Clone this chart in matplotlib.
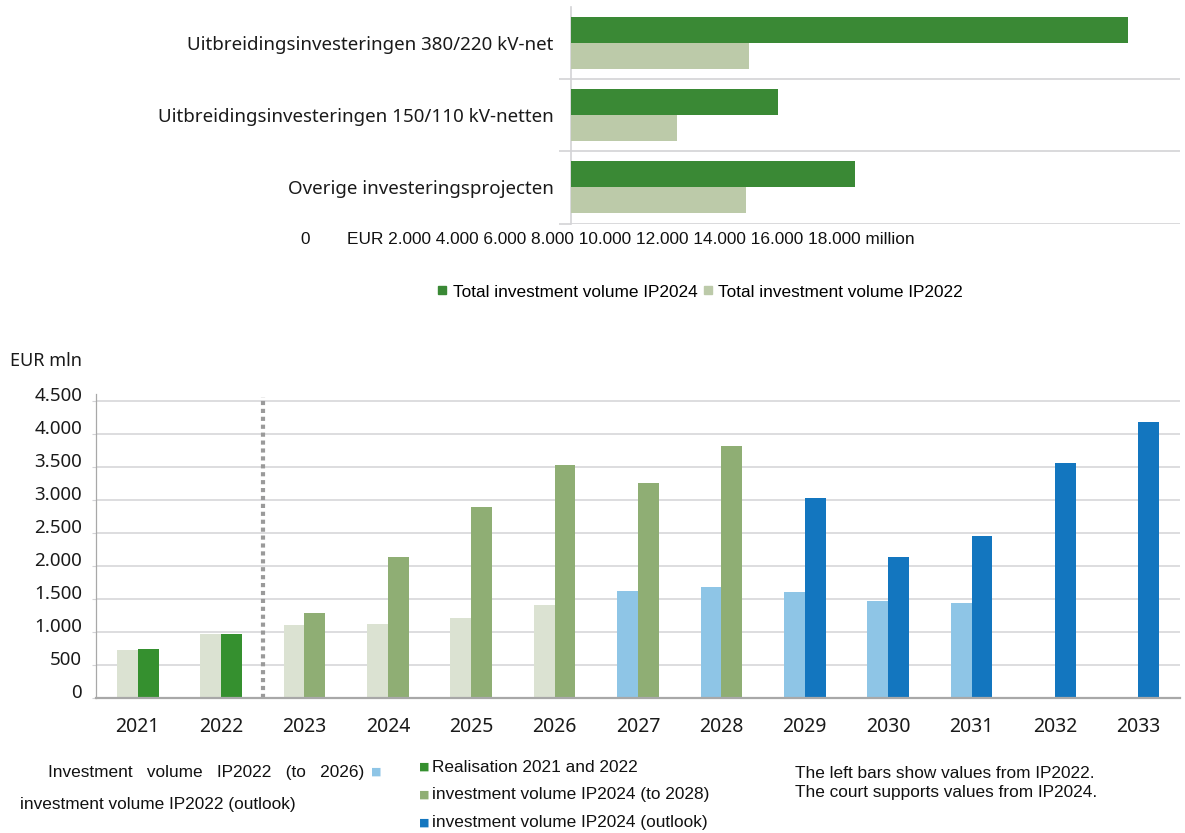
import numpy as np
import matplotlib
matplotlib.use("Agg")
import matplotlib.pyplot as plt
from matplotlib.lines import Line2D

# ---------------- data ----------------
project_labels = [
    "Uitbreidingsinvesteringen 380/220 kV-net",
    "Uitbreidingsinvesteringen 150/110 kV-netten",
    "Overige investeringsprojecten",
]
total_ip2024 = [18300, 6820, 9340]   # EUR million
total_ip2022 = [5870, 3490, 5770]    # EUR million

years = [2021, 2022, 2023, 2024, 2025, 2026, 2027, 2028, 2029, 2030, 2031, 2032, 2033]
volume_ip2022 = [725, 965, 1110, 1125, 1215, 1405, 1625, 1685, 1600, 1475, 1445, 0, 0]
volume_ip2024 = [740, 975, 1290, 2130, 2890, 3535, 3260, 3820, 3035, 2130, 2460, 3555, 4175]
ytick_values = [0, 500, 1000, 1500, 2000, 2500, 3000, 3500, 4000, 4500]

# ---------------- styling ----------------
C_TOP_DARK = "#3a8935"
C_TOP_LIGHT = "#bccaa9"
C_IP22_NEAR = "#dbe2d2"
C_IP22_OUT = "#8ec5e6"
C_REAL = "#35902f"
C_IP24_NEAR = "#8fae74"
C_IP24_OUT = "#1376bf"
GRID = "#d3d3d6"

HUMANIST = ["Noto Sans", "DejaVu Sans"]
ARIAL = ["Liberation Sans", "DejaVu Sans"]

W, H = 1185, 833
fig = plt.figure(figsize=(W / 100, H / 100), dpi=100)
fig.patch.set_facecolor("white")


def px_axes(left, top, right, bottom):
    return fig.add_axes([left / W, 1 - bottom / H, (right - left) / W, (bottom - top) / H])


def ftext(x, y, s, **kw):
    return fig.text(x / W, 1 - y / H, s, **kw)


# ---------------- top chart: totals per project type ----------------
ax1 = px_axes(570.5, 6.5, 1180, 223.5)
ypos = np.arange(len(project_labels))
bh = 0.36
ax1.barh(ypos - bh / 2, total_ip2024, height=bh, color=C_TOP_DARK, zorder=3,
         label="Total investment volume IP2024")
ax1.barh(ypos + bh / 2, total_ip2022, height=bh, color=C_TOP_LIGHT, zorder=3,
         label="Total investment volume IP2022")
ax1.set_xlim(0, 20000)
ax1.set_ylim(len(project_labels) - 0.5, -0.5)
ax1.set_xticks([])
ax1.set_yticks(list(ypos[:-1] + 0.5) + [len(project_labels) - 0.5])
ax1.set_yticklabels([])
ax1.tick_params(axis="y", which="major", length=9, color=GRID, width=1.2)
ax1.grid(axis="y", which="major", color=GRID, linewidth=1.2, zorder=0)
ax1.set_yticks(ypos, minor=True)
ax1.set_yticklabels(project_labels, minor=True, fontsize=13.5, family=HUMANIST, color="#1a1a1a")
ax1.tick_params(axis="y", which="minor", length=0, pad=12)
for s in ["top", "right", "bottom"]:
    ax1.spines[s].set_visible(False)
ax1.spines["left"].set_color(GRID)
ax1.spines["left"].set_linewidth(1.2)
ax1.set_facecolor("none")

ftext(300, 240, "0", fontsize=12.3, family=ARIAL, va="center", color="#111111")
ftext(347, 240, "EUR 2.000 4.000 6.000 8.000 10.000 12.000 14.000 16.000 18.000 million",
      fontsize=12.4, family=ARIAL, va="center", color="#111111")

top_handles = [
    Line2D([], [], marker="s", linestyle="none", markersize=5.5, color=C_TOP_DARK),
    Line2D([], [], marker="s", linestyle="none", markersize=5.5, color=C_TOP_LIGHT),
]
fig.legend(top_handles, ["Total investment volume IP2024", "Total investment volume IP2022"],
           loc="center", bbox_to_anchor=(700 / W, 1 - 292 / H), ncol=2, frameon=False,
           handlelength=0.6, handletextpad=0.3, columnspacing=0.3,
           prop={"family": ARIAL, "size": 12.4})

# ---------------- bottom chart: yearly investment volume ----------------
ax2 = px_axes(96, 394.4, 1180, 698)
x = np.arange(len(years))
bw = 0.25
left_colors = [C_IP22_NEAR if yr <= 2026 else C_IP22_OUT for yr in years]
right_colors = [C_REAL if yr <= 2022 else (C_IP24_NEAR if yr <= 2028 else C_IP24_OUT) for yr in years]
ax2.bar(x - bw / 2, volume_ip2022, width=bw, color=left_colors, zorder=3)
ax2.bar(x + bw / 2, volume_ip2024, width=bw, color=right_colors, zorder=3)
ax2.set_xlim(-0.5, len(years) - 0.5)
ax2.set_ylim(0, 4600)
ax2.set_yticks(ytick_values)
ax2.set_yticklabels([f"{v:,}".replace(",", ".") for v in ytick_values],
                    fontsize=13.5, family=HUMANIST, color="#1a1a1a")
for t in ax2.get_yticklabels():
    t.set_va("baseline")
ax2.tick_params(axis="y", length=3, color=GRID, pad=7)
ax2.set_xticks(x)
ax2.set_xticklabels([str(y) for y in years], fontsize=14, family=HUMANIST, color="#1a1a1a")
ax2.tick_params(axis="x", length=0, pad=14)
ax2.grid(axis="y", color=GRID, linewidth=1.1, zorder=0)
ax2.axvline(1.5, ymin=0, ymax=4560 / 4600, color="#9a9a9a", linewidth=3.0,
            linestyle=(0, (1.0, 0.9)), dash_capstyle="butt", zorder=4)
for s in ["top", "right"]:
    ax2.spines[s].set_visible(False)
ax2.spines["left"].set_color("#a8a8a8")
ax2.spines["left"].set_linewidth(0.9)
ax2.spines["bottom"].set_color("#a8a8a8")
ax2.spines["bottom"].set_linewidth(1.6)
ax2.spines["bottom"].set_zorder(5)

ftext(10, 361, "EUR mln", fontsize=13, family=HUMANIST, va="center", color="#1a1a1a")

# ---------------- bottom legend and notes ----------------
LEG = dict(fontsize=12.4, family=ARIAL, va="center", color="#111111")
SQ = dict(fontsize=8, family=["DejaVu Sans"], va="center")

ftext(48, 772, "Investment   volume   IP2022   (to   2026)", **LEG)
ftext(371, 772, "\u25a0", color=C_IP22_OUT, **SQ)
ftext(20, 805, "investment volume IP2022 (outlook)", **LEG)

ftext(419, 767, "\u25a0", color=C_REAL, **SQ)
ftext(432, 767, "Realisation 2021 and 2022", **LEG)
ftext(419, 795, "\u25a0", color=C_IP24_NEAR, **SQ)
ftext(432, 795, "investment volume IP2024 (to 2028)", **LEG)
ftext(419, 823, "\u25a0", color=C_IP24_OUT, **SQ)
ftext(432, 823, "investment volume IP2024 (outlook)", **LEG)

ftext(795, 773, "The left bars show values from IP2022.", **LEG)
ftext(795, 792, "The court supports values from IP2024.", **LEG)

fig.savefig("out.png", dpi=100, facecolor="white")
